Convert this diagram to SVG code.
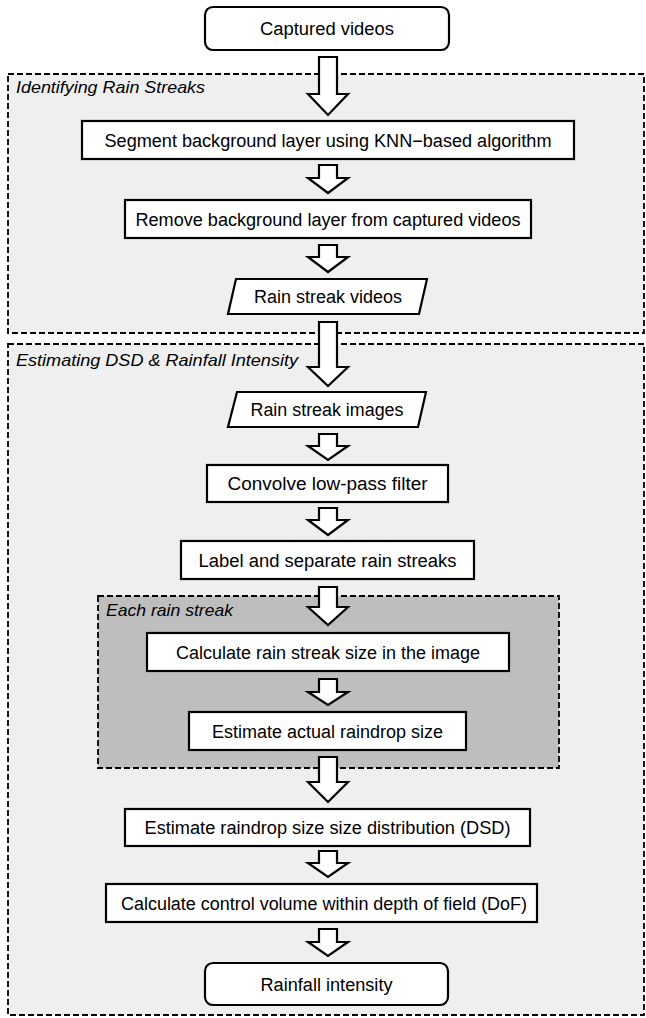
<svg xmlns="http://www.w3.org/2000/svg" width="646" height="1018" viewBox="0 0 646 1018">
<style>
.bg{fill:#ffffff}
.grp{fill:#efefef;stroke:#000;stroke-width:1.8;stroke-dasharray:6 3}
.grp2{fill:#bebebe;stroke:#000;stroke-width:1.8;stroke-dasharray:6 3}
.box{fill:#fff;stroke:#000;stroke-width:2.2}
.t{font-family:"Liberation Sans",Arial,sans-serif;font-size:18px;fill:#000;text-anchor:middle}
.lbl{font-family:"Liberation Sans",Arial,sans-serif;font-size:16.5px;font-style:italic;fill:#000}
.arr{fill:#fff;stroke:#000;stroke-width:2.2;stroke-linejoin:miter}
</style>
<rect class="bg" x="0" y="0" width="646" height="1018"/>

<g id="group-identifying">
<rect class="grp" x="8" y="74" width="636" height="259"/>
<text class="lbl" x="16" y="93" textLength="189" lengthAdjust="spacingAndGlyphs">Identifying Rain Streaks</text>
</g>
<g id="group-estimating">
<rect class="grp" x="8" y="344" width="636" height="671"/>
<text class="lbl" x="16" y="366" textLength="282" lengthAdjust="spacingAndGlyphs">Estimating DSD &amp; Rainfall Intensity</text>
</g>
<g id="group-each">
<rect class="grp2" x="98" y="596" width="461" height="172"/>
<text class="lbl" x="106" y="616" textLength="127" lengthAdjust="spacingAndGlyphs">Each rain streak</text>
</g>

<g id="n-captured">
<rect class="box" x="205" y="7" width="244" height="43" rx="8"/>
<text class="t" x="327" y="34.5" textLength="134" lengthAdjust="spacingAndGlyphs">Captured videos</text>
</g>
<g id="n-segment">
<rect class="box" x="82" y="121" width="492" height="38"/>
<text class="t" x="328" y="146.5" textLength="447" lengthAdjust="spacingAndGlyphs">Segment  background layer using KNN−based algorithm</text>
</g>
<g id="n-remove">
<rect class="box" x="125" y="200" width="406" height="38"/>
<text class="t" x="328" y="225.5" textLength="385" lengthAdjust="spacingAndGlyphs">Remove background layer from captured videos</text>
</g>
<g id="n-rsvideos">
<polygon class="box" points="236,279 427,279 419,314 228,314"/>
<text class="t" x="328" y="302.5" textLength="148" lengthAdjust="spacingAndGlyphs">Rain streak videos</text>
</g>
<g id="n-rsimages">
<polygon class="box" points="237,392 426,392 418,427 228,427"/>
<text class="t" x="327" y="415.5" textLength="153" lengthAdjust="spacingAndGlyphs">Rain streak images</text>
</g>
<g id="n-convolve">
<rect class="box" x="207" y="465" width="241" height="37"/>
<text class="t" x="327.5" y="489.5" textLength="200" lengthAdjust="spacingAndGlyphs">Convolve low-pass filter</text>
</g>
<g id="n-label">
<rect class="box" x="181" y="541" width="293" height="38"/>
<text class="t" x="327.5" y="566.5" textLength="258" lengthAdjust="spacingAndGlyphs">Label and separate rain streaks</text>
</g>
<g id="n-calcsize">
<rect class="box" x="147" y="633" width="362" height="38"/>
<text class="t" x="328" y="658.5" textLength="304" lengthAdjust="spacingAndGlyphs">Calculate rain streak size in the image</text>
</g>
<g id="n-estactual">
<rect class="box" x="189" y="712" width="277" height="38"/>
<text class="t" x="327.5" y="737.5" textLength="231" lengthAdjust="spacingAndGlyphs">Estimate actual raindrop size</text>
</g>
<g id="n-dsd">
<rect class="box" x="125" y="809" width="405" height="37"/>
<text class="t" x="327.5" y="833.5" textLength="366" lengthAdjust="spacingAndGlyphs">Estimate raindrop size size distribution (DSD)</text>
</g>
<g id="n-control">
<rect class="box" x="106" y="884" width="431" height="38"/>
<text class="t" x="324" y="909.5" textLength="406" lengthAdjust="spacingAndGlyphs">Calculate control volume within depth of field (DoF)</text>
</g>
<g id="n-rainfall">
<rect class="box" x="205" y="963" width="243" height="42" rx="8"/>
<text class="t" x="326.5" y="990.5" textLength="132" lengthAdjust="spacingAndGlyphs">Rainfall intensity</text>
</g>

<g id="connectors">
<polygon class="arr" points="319,57 337,57 337,94 348,94 328,115 308,94 319,94"/>
<polygon class="arr" points="319,165 337,165 337,178 348,178 328,193 308,178 319,178"/>
<polygon class="arr" points="319,245 337,245 337,257 348,257 328,272 308,257 319,257"/>
<polygon class="arr" points="319,322 337,322 337,367 348,367 328,386 308,367 319,367"/>
<polygon class="arr" points="319,434 337,434 337,446 348,446 328,460 308,446 319,446"/>
<polygon class="arr" points="319,508 337,508 337,520 348,520 328,535 308,520 319,520"/>
<polygon class="arr" points="319,587 337,587 337,607 348,607 328,625 308,607 319,607"/>
<polygon class="arr" points="319,679 337,679 337,692 348,692 328,705 308,692 319,692"/>
<polygon class="arr" points="319,757 337,757 337,782 348,782 328,802 308,782 319,782"/>
<polygon class="arr" points="319,851 337,851 337,863 348,863 328,877 308,863 319,863"/>
<polygon class="arr" points="319,929 337,929 337,942 348,942 328,956 308,942 319,942"/>
</g>
</svg>
